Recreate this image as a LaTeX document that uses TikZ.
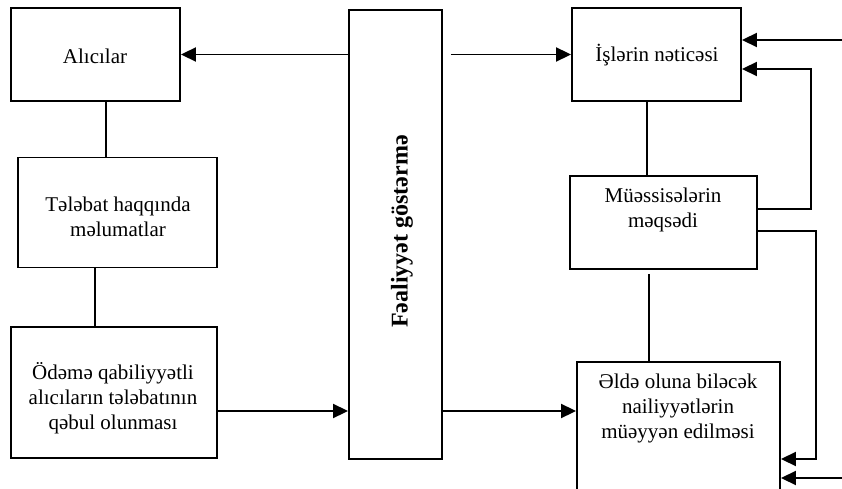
\documentclass[tikz,border=0pt]{standalone}
\usepackage{fontspec}
\setmainfont{Liberation Serif}
\usetikzlibrary{arrows.meta}
\begin{document}
\begin{tikzpicture}[x=1pt,y=-1pt,line width=1.9pt,
  box/.style={draw,rectangle,inner sep=0pt},
  txt/.style={inner sep=0pt,align=center,font=\fontsize{21}{25}\selectfont},
  arr/.style={-{Triangle[length=15pt,width=14pt]}}]
\clip (0,0) rectangle (842,489);
% boxes
\node[box,minimum width=169pt,minimum height=93pt] (alic) at (95.5,54.5) {};
\node[box,minimum width=199pt,minimum height=110pt] (teleb) at (117.5,212.5) {};
\node[box,minimum width=206pt,minimum height=131pt] (odeme) at (114,392.5) {};
\node[box,minimum width=93pt,minimum height=449pt] (fg) at (395.5,234.5) {};
\node[box,minimum width=169pt,minimum height=93pt] (isl) at (656.5,54.5) {};
\node[box,minimum width=187pt,minimum height=93pt] (muess) at (663.5,222.5) {};
\node[box,minimum width=203pt,minimum height=168pt] (elde) at (678.5,446) {};
% texts
\node[txt] (alict) at (95,56) {Alıcılar};
\node[txt] (telebt) at (118,216.5) {Tələbat haqqında\\məlumatlar};
\node[txt] (odemet) at (113,398) {Ödəmə qabiliyyətli\\alıcıların tələbatının\\qəbul olunması};
\node[rotate=90,inner sep=0pt,font=\bfseries\fontsize{24}{28}\selectfont] (fgt) at (402,231.5) {Fəaliyyət göstərmə};
\node[txt] (islt) at (657,55) {İşlərin nəticəsi};
\node[txt] (muesst) at (663,210) {Müəssisələrin\\məqsədi};
\node[txt] (eldet) at (678,408) {Əldə oluna biləcək\\nailiyyətlərin\\müəyyən edilməsi};
% coordinates
\coordinate (ylow) at (0,411);
\coordinate (r1a) at (811,209);
\coordinate (r1b) at (811,69);
\coordinate (r2a) at (816,231);
\coordinate (r2b) at (816,459);
\coordinate (in1) at (842,40);
\coordinate (in2) at (842,478);
% connectors
\draw[arr] (fg.west |- alic.east) -- (alic.east);
\draw[arr] ([xshift=8pt]fg.east |- isl.west) -- (isl.west);
\draw[arr] (odeme.east |- ylow) -- (fg.west |- ylow);
\draw[arr] ([xshift=-2pt]fg.east |- ylow) -- (elde.west |- ylow);
\draw ([xshift=10.5pt]alic.south) -- ([xshift=10.5pt]alic.south |- teleb.north);
\draw ([xshift=-22.5pt]teleb.south) -- ([xshift=-22.5pt]teleb.south |- odeme.north);
\draw ([xshift=-9.5pt]isl.south) -- ([xshift=-9.5pt]isl.south |- muess.north);
\draw ([xshift=-14.5pt,yshift=-4pt]muess.south) -- ([xshift=-14.5pt]muess.south |- elde.north);
\draw[arr] (muess.east |- r1a) -- (r1a) -- (r1b) -- (isl.east |- r1b);
\draw[arr] (muess.east |- r2a) -- (r2a) -- (r2b) -- (elde.east |- r2b);
\draw[arr] (in1) -- (isl.east |- in1);
\draw[arr] (in2) -- (elde.east |- in2);
\end{tikzpicture}
\end{document}
